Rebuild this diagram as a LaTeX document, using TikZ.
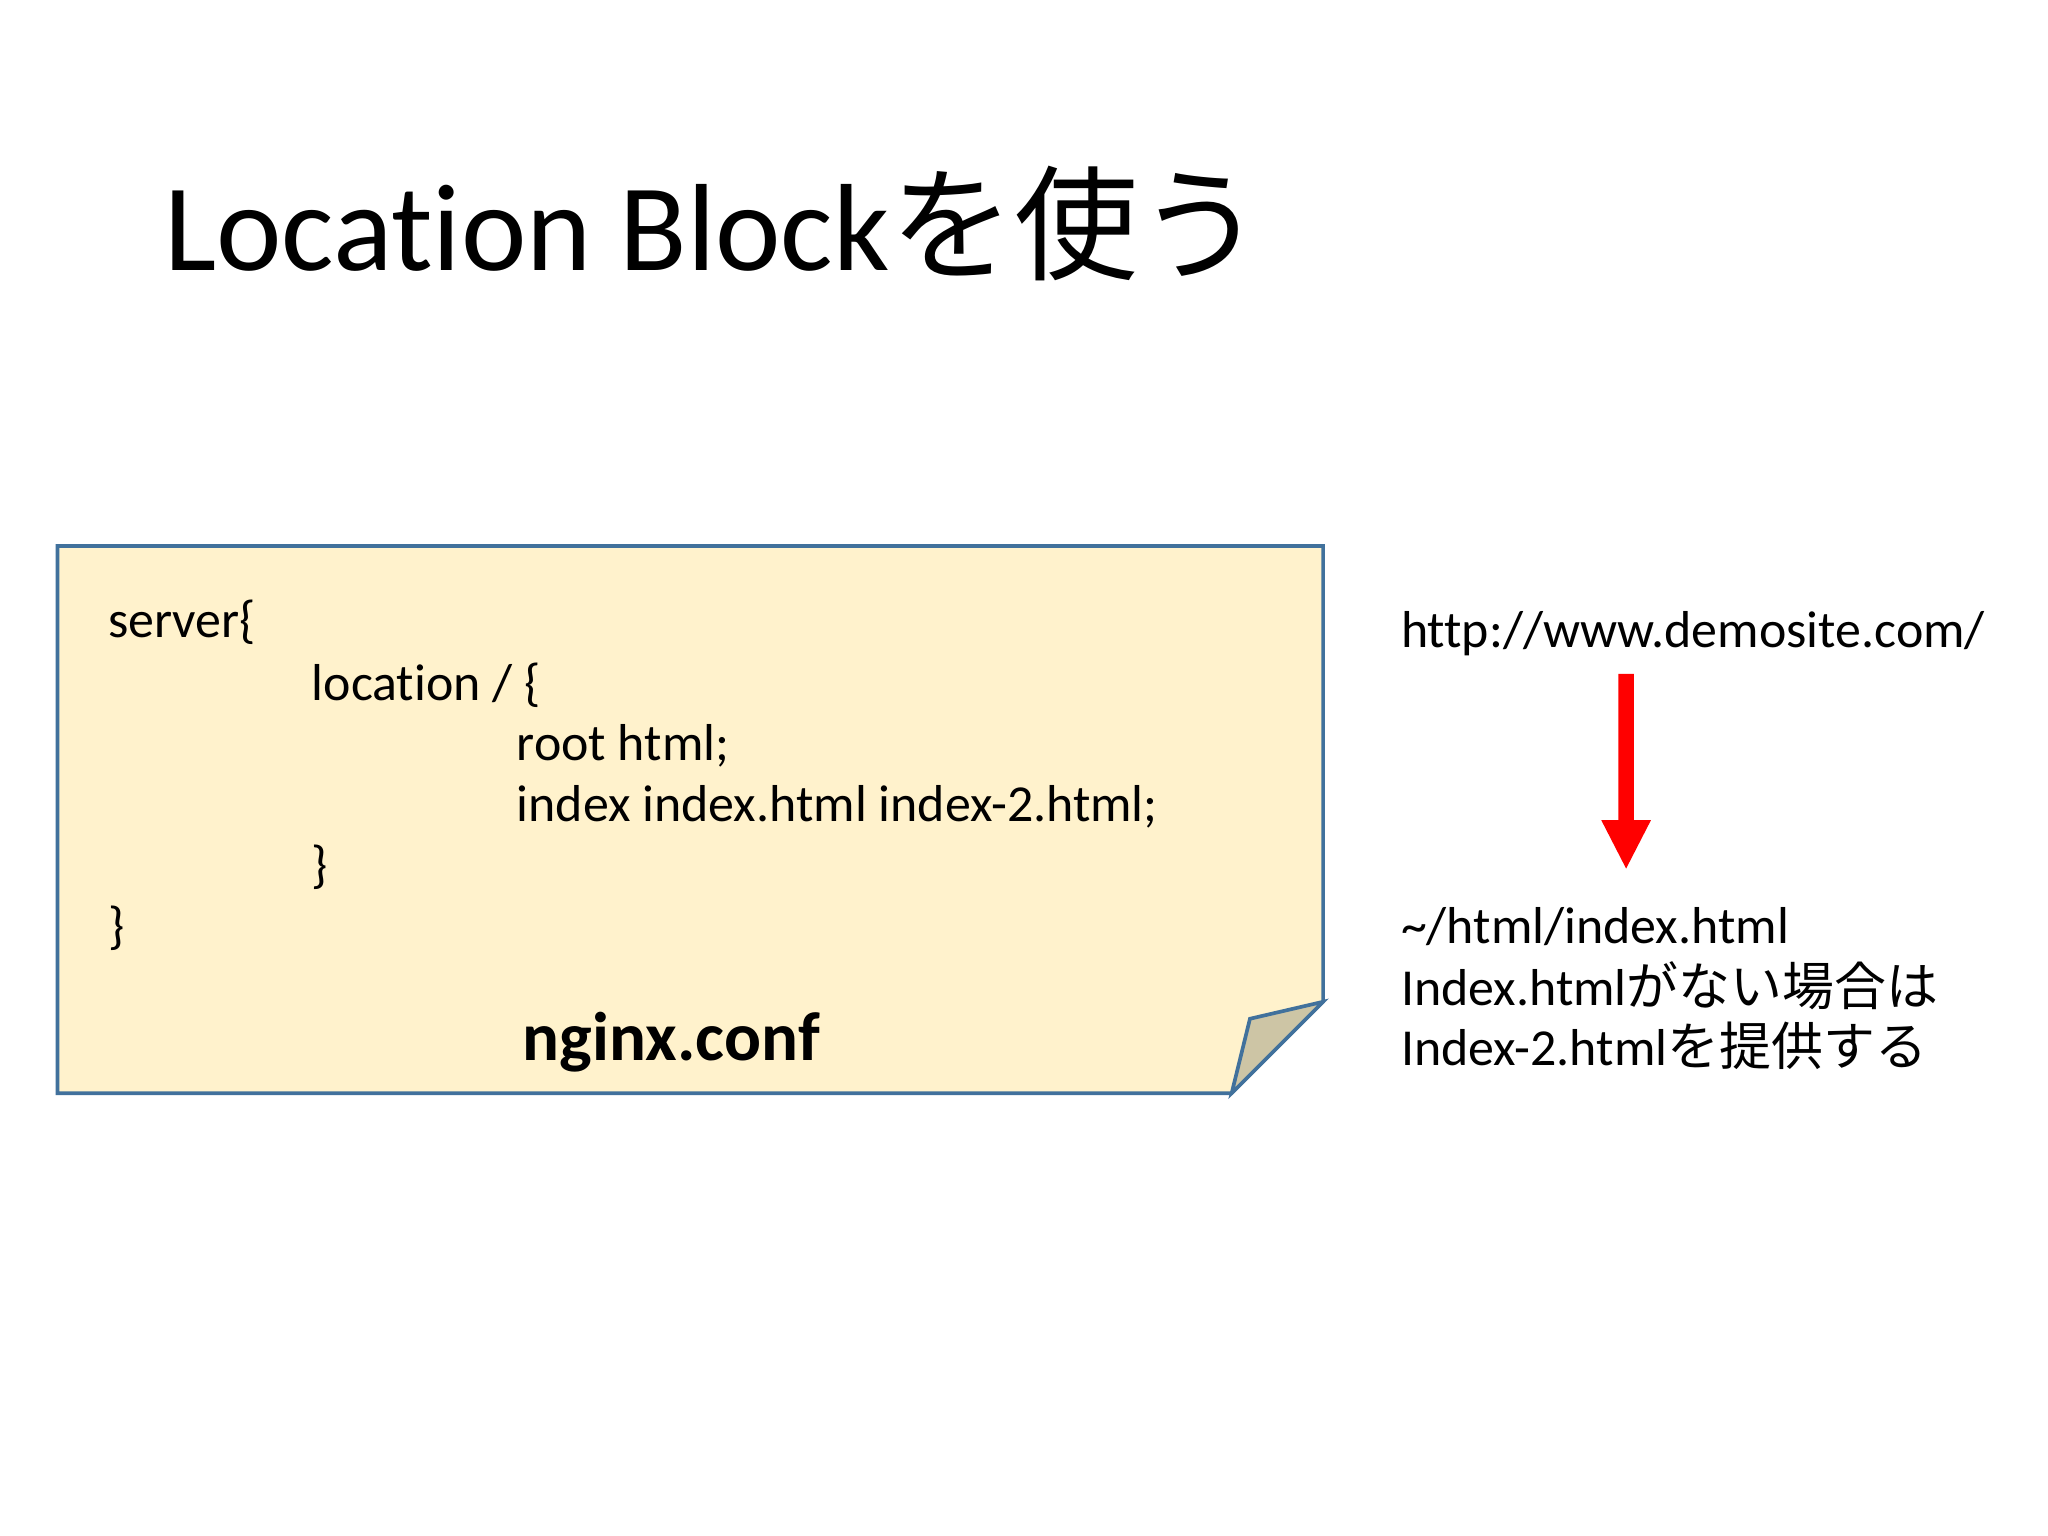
\documentclass[tikz,border=0pt]{standalone}
\usepackage{fontspec}
\setmainfont[Ligatures=CommonOff]{Carlito}
\newfontfamily\cjk{Noto Sans CJK JP}
\newfontfamily\cjklight{Noto Sans CJK JP Light}
\definecolor{notefill}{HTML}{FFF2CC}
\definecolor{noteline}{HTML}{41719C}
\definecolor{foldfill}{HTML}{CDC5A5}
\begin{document}
\begin{tikzpicture}[x=0.01cm,y=-0.01cm,
  code/.style={anchor=base west,inner sep=0pt,font=\fontsize{11.3}{14}\selectfont},
  side/.style={anchor=base west,inner sep=0pt,font=\fontsize{11.3}{14}\selectfont}]
\fill[white] (0,0) rectangle (1568,1176);
\useasboundingbox (0,0) rectangle (1568,1176);
\node[anchor=base west,inner sep=0pt,font=\fontsize{27}{32}\selectfont] (title) at (125,207) {Location Block{\cjk を使う}};
% note
\filldraw[fill=notefill,draw=noteline,line width=0.8pt] (44,418) -- (1013,418) -- (1013,767) -- (943,837) -- (44,837) -- cycle;
\filldraw[fill=foldfill,draw=noteline,line width=0.8pt] (943,837) -- (957,780) -- (1013,767) -- cycle;
\node[code] (l1) at (82,488) {server\{};
\node[code] (l2) at (238,536) {location / \{};
\node[code] (l3) at (395,582) {root html;};
\node[code] (l4) at (395,629) {index index.html index-2.html;};
\node[code] (l5) at (238,676) {\}};
\node[code] (l6) at (82,722) {\}};
\node[anchor=base,inner sep=0pt,font=\fontsize{15}{18}\selectfont\bfseries] (conf) at (514,812) {nginx.conf};
% right
\node[side] (url) at (1072,496) {http://www.demosite.com/};
\coordinate (a1) at (1245,516);
\coordinate (a2) at (1245,665);
\fill[red] (1239,516) -- (1251,516) -- (1251,628) -- (1264,628) -- (a2) -- (1226,628) -- (1239,628) -- cycle;
\node[side] (r1) at (1072,722) {\textasciitilde/html/index.html};
\node[side] (r2) at (1072,770) {Index.html{\cjk がない場合は}};
\node[side] (r3) at (1072,816) {Index-2.html{\cjk を提供する}};
\end{tikzpicture}
\end{document}
